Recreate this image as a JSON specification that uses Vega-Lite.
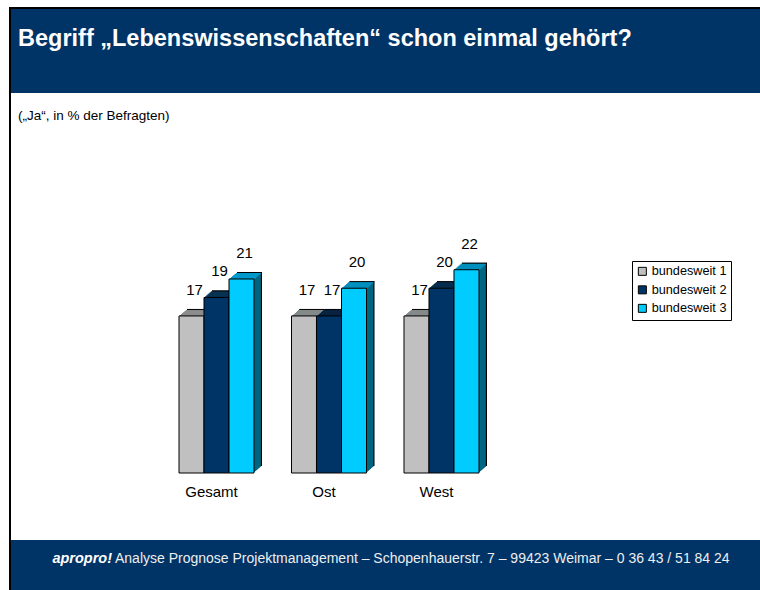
{
  "$schema": "https://vega.github.io/schema/vega-lite/v6.json",
  "padding": {"left": 9, "top": 7, "right": 0, "bottom": 0},
  "autosize": {"type": "pad"},
  "background": "white",
  "config": {"view": {"stroke": null}, "concat": {"spacing": 0}, "font": "Liberation Sans"},
  "spacing": 0,
  "vconcat": [
    {"width": 751, "height": 2, "view": {"fill": "black", "stroke": null}, "data": {"values": []}, "mark": "point"},
    {"spacing": 0, "hconcat": [
      {"width": 2, "height": 581, "view": {"fill": "black", "stroke": null}, "data": {"values": []}, "mark": "point"},
      {"spacing": 0, "vconcat": [
        {
          "width": 749, "height": 84,
          "view": {"fill": "#003366", "stroke": null},
          "data": {"values": []},
          "mark": "point",
          "title": {"text": "Begriff „Lebenswissenschaften“ schon einmal gehört?", "anchor": "start", "frame": "group", "orient": "top", "offset": -60.5, "baseline": "alphabetic", "dx": 7, "font": "Liberation Sans", "fontSize": 23.5, "fontWeight": "bold", "color": "white"}
        },
        {
          "width": 749, "height": 447,
          "view": {"fill": "white", "stroke": null},
          "title": {"text": "(„Ja“, in % der Befragten)", "anchor": "start", "frame": "group", "orient": "top", "offset": -40.5, "baseline": "alphabetic", "dx": 7, "font": "Liberation Sans", "fontSize": 13.5, "fontWeight": "normal", "color": "black"},
          "data": {"values": [
            {"group": "Gesamt", "series": "bundesweit 1", "value": 17},
            {"group": "Gesamt", "series": "bundesweit 2", "value": 19},
            {"group": "Gesamt", "series": "bundesweit 3", "value": 21},
            {"group": "Ost", "series": "bundesweit 1", "value": 17},
            {"group": "Ost", "series": "bundesweit 2", "value": 17},
            {"group": "Ost", "series": "bundesweit 3", "value": 20},
            {"group": "West", "series": "bundesweit 1", "value": 17},
            {"group": "West", "series": "bundesweit 2", "value": 20},
            {"group": "West", "series": "bundesweit 3", "value": 22}
          ]},
          "encoding": {
            "xOffset": {"field": "series", "type": "nominal", "scale": {"paddingInner": 0, "paddingOuter": 0}},
            "y": {"field": "value", "type": "quantitative", "scale": {"domain": [-7.25, 41.13]}, "axis": null}
          },
          "layer": [
            {"mark": {"type": "bar", "color": "#000000", "yOffset": -7, "y2Offset": -7}, "encoding": {"x": {"field": "group", "type": "nominal", "sort": null, "scale": {"range": [176, 476], "paddingInner": 0.3333, "paddingOuter": 0}, "axis": null}, "y2": {"datum": 0}}},
            {"mark": {"type": "bar", "color": "#006680", "yOffset": -6, "y2Offset": -6}, "encoding": {"x": {"field": "group", "type": "nominal", "sort": null, "scale": {"range": [174.857, 474.857], "paddingInner": 0.3333, "paddingOuter": 0}, "axis": null}, "y2": {"datum": 0}}},
            {"mark": {"type": "bar", "color": "#006680", "yOffset": -5, "y2Offset": -5}, "encoding": {"x": {"field": "group", "type": "nominal", "sort": null, "scale": {"range": [173.714, 473.714], "paddingInner": 0.3333, "paddingOuter": 0}, "axis": null}, "y2": {"datum": 0}}},
            {"mark": {"type": "bar", "color": "#006680", "yOffset": -4, "y2Offset": -4}, "encoding": {"x": {"field": "group", "type": "nominal", "sort": null, "scale": {"range": [172.571, 472.571], "paddingInner": 0.3333, "paddingOuter": 0}, "axis": null}, "y2": {"datum": 0}}},
            {"mark": {"type": "bar", "color": "#006680", "yOffset": -3, "y2Offset": -3}, "encoding": {"x": {"field": "group", "type": "nominal", "sort": null, "scale": {"range": [171.429, 471.429], "paddingInner": 0.3333, "paddingOuter": 0}, "axis": null}, "y2": {"datum": 0}}},
            {"mark": {"type": "bar", "color": "#006680", "yOffset": -2, "y2Offset": -2}, "encoding": {"x": {"field": "group", "type": "nominal", "sort": null, "scale": {"range": [170.286, 470.286], "paddingInner": 0.3333, "paddingOuter": 0}, "axis": null}, "y2": {"datum": 0}}},
            {"mark": {"type": "bar", "color": "#006680", "yOffset": -1, "y2Offset": -1}, "encoding": {"x": {"field": "group", "type": "nominal", "sort": null, "scale": {"range": [169.143, 469.143], "paddingInner": 0.3333, "paddingOuter": 0}, "axis": null}, "y2": {"datum": 0}}},
            {"mark": {"type": "bar", "color": "#000000", "yOffset": -7, "y2Offset": -6}, "encoding": {"x": {"field": "group", "type": "nominal", "sort": null, "scale": {"range": [176, 476], "paddingInner": 0.3333, "paddingOuter": 0}, "axis": null}, "y2": {"field": "value"}}},
            {"mark": {"type": "bar", "yOffset": -6, "y2Offset": -5}, "encoding": {"x": {"field": "group", "type": "nominal", "sort": null, "scale": {"range": [174.857, 474.857], "paddingInner": 0.3333, "paddingOuter": 0}, "axis": null}, "y2": {"field": "value"}, "fill": {"field": "series", "type": "nominal", "scale": {"domain": ["bundesweit 3", "bundesweit 2", "bundesweit 1"], "range": ["#0099cc", "#0a2040", "#8c8c8c"]}, "legend": null}}},
            {"mark": {"type": "bar", "yOffset": -5, "y2Offset": -4}, "encoding": {"x": {"field": "group", "type": "nominal", "sort": null, "scale": {"range": [173.714, 473.714], "paddingInner": 0.3333, "paddingOuter": 0}, "axis": null}, "y2": {"field": "value"}, "fill": {"field": "series", "type": "nominal", "legend": null}}},
            {"mark": {"type": "bar", "yOffset": -4, "y2Offset": -3}, "encoding": {"x": {"field": "group", "type": "nominal", "sort": null, "scale": {"range": [172.571, 472.571], "paddingInner": 0.3333, "paddingOuter": 0}, "axis": null}, "y2": {"field": "value"}, "fill": {"field": "series", "type": "nominal", "legend": null}}},
            {"mark": {"type": "bar", "yOffset": -3, "y2Offset": -2}, "encoding": {"x": {"field": "group", "type": "nominal", "sort": null, "scale": {"range": [171.429, 471.429], "paddingInner": 0.3333, "paddingOuter": 0}, "axis": null}, "y2": {"field": "value"}, "fill": {"field": "series", "type": "nominal", "legend": null}}},
            {"mark": {"type": "bar", "yOffset": -2, "y2Offset": -1}, "encoding": {"x": {"field": "group", "type": "nominal", "sort": null, "scale": {"range": [170.286, 470.286], "paddingInner": 0.3333, "paddingOuter": 0}, "axis": null}, "y2": {"field": "value"}, "fill": {"field": "series", "type": "nominal", "legend": null}}},
            {"mark": {"type": "bar", "yOffset": -1, "y2Offset": 0}, "encoding": {"x": {"field": "group", "type": "nominal", "sort": null, "scale": {"range": [169.143, 469.143], "paddingInner": 0.3333, "paddingOuter": 0}, "axis": null}, "y2": {"field": "value"}, "fill": {"field": "series", "type": "nominal", "legend": null}}},
            {"mark": {"type": "bar", "stroke": "#000000", "strokeWidth": 1},
             "encoding": {
               "x": {"field": "group", "type": "nominal", "sort": null, "scale": {"range": [168, 468], "paddingInner": 0.3333, "paddingOuter": 0},
                     "axis": {"orient": "bottom", "offset": -67, "domain": false, "ticks": false, "grid": false, "title": null, "labelAngle": 0, "labelPadding": 11, "labelFontSize": 15, "labelFont": "Liberation Sans", "labelColor": "#000000", "labelOffset": -5}},
               "y2": {"datum": 0},
               "color": {"field": "series", "type": "nominal", "scale": {"domain": ["bundesweit 1", "bundesweit 2", "bundesweit 3"], "range": ["#c0c0c0", "#003366", "#00ccff"]},
                         "legend": {"orient": "none", "legendX": 623, "legendY": 254, "title": null, "strokeColor": "#000000", "fillColor": "#ffffff", "padding": 4, "symbolType": "square", "symbolSize": 64, "symbolStrokeColor": "#000000", "symbolStrokeWidth": 1, "labelFontSize": 12.7, "labelFont": "Liberation Sans", "labelColor": "#000000", "rowPadding": 4.5, "labelOffset": 3}}
             }},
            {"mark": {"type": "text", "dx": 3, "dy": -26, "fontSize": 15, "font": "Liberation Sans", "color": "#000000", "baseline": "middle"},
             "encoding": {
               "x": {"field": "group", "type": "nominal", "sort": null, "scale": {"range": [168, 468], "paddingInner": 0.3333, "paddingOuter": 0}, "axis": null},
               "xOffset": {"field": "series", "type": "nominal", "scale": {"padding": 0.5}},
               "text": {"field": "value", "type": "quantitative"}
             }}
          ],
          "resolve": {"scale": {"x": "independent", "xOffset": "independent"}}
        },
        {
          "width": 749, "height": 50,
          "view": {"fill": "#003366", "stroke": null},
          "data": {"values": [{}]},
          "layer": [
            {"mark": {"type": "text", "text": "apropro!", "align": "right", "dx": -273.5, "dy": -6, "font": "Liberation Sans", "fontSize": 14.5, "fontWeight": "bold", "fontStyle": "italic", "color": "#ffffff"}, "encoding": {}},
            {"mark": {"type": "text", "text": "Analyse Prognose Projektmanagement – Schopenhauerstr. 7 – 99423 Weimar – 0 36 43 / 51 84 24", "align": "left", "dx": -270.5, "dy": -6, "font": "Liberation Sans", "fontSize": 14, "color": "#eeeeee"}, "encoding": {}}
          ]
        }
      ]}
    ]}
  ]
}
